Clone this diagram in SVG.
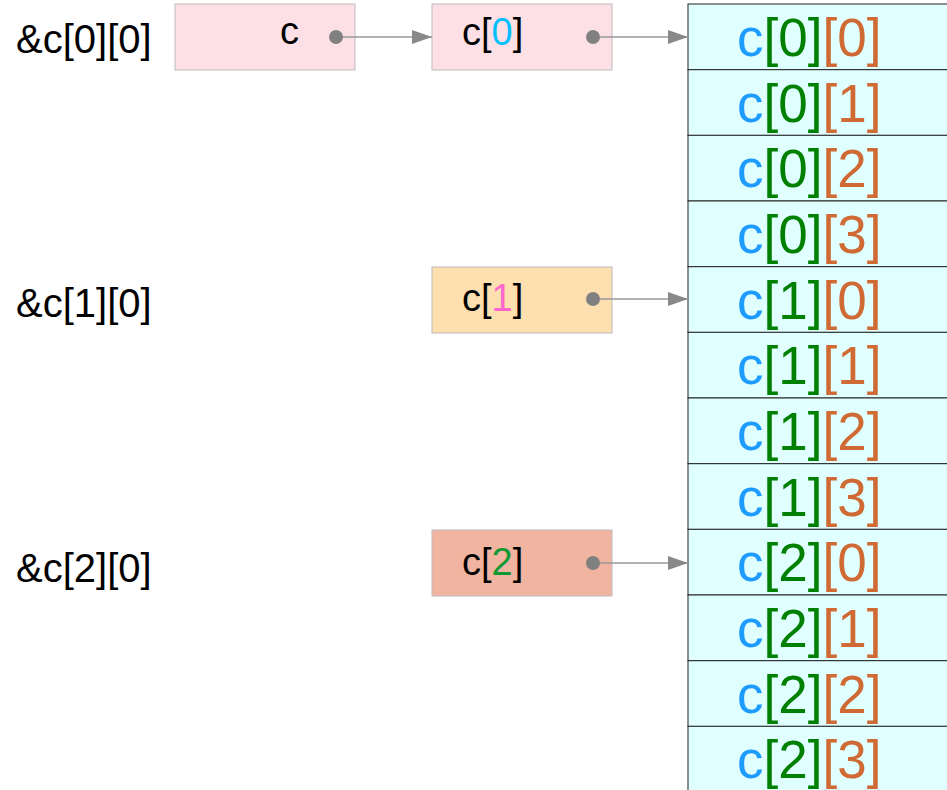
<svg xmlns="http://www.w3.org/2000/svg" width="947" height="790" viewBox="0 0 947 790">
<style>
text{font-family:"Liberation Sans",Arial,sans-serif;fill:#000}
.lbl{font-size:40px}
.nt{font-size:38px}
.ct{font-size:53px}
.box{stroke:#bbbbbb;stroke-width:1}
.cell{fill:#e0ffff;stroke:#222;stroke-width:1}
.conn{stroke:#999;stroke-width:1.5;fill:none}
.dot{fill:#808080}
.b{fill:#1e9bff}.g{fill:#008000}.o{fill:#cf6a35}
</style>
<defs>
<marker id="ah" markerWidth="20" markerHeight="14" refX="20" refY="7" orient="auto" markerUnits="userSpaceOnUse">
<path d="M0,0 L20,7 L0,14 z" fill="#888"/>
</marker>
</defs>
<g id="labels">
<text class="lbl" x="16" y="53">&amp;c[0][0]</text>
<text class="lbl" x="16" y="317">&amp;c[1][0]</text>
<text class="lbl" x="16" y="582">&amp;c[2][0]</text>
</g>
<g id="array">
<g id="c00"><rect class="cell" x="688" y="4" width="270" height="65.7"/><text class="ct" x="737" y="56"><tspan class="b">c</tspan><tspan class="g">[0]</tspan><tspan class="o">[0]</tspan></text></g>
<g id="c01"><rect class="cell" x="688" y="69.7" width="270" height="65.7"/><text class="ct" x="737" y="122"><tspan class="b">c</tspan><tspan class="g">[0]</tspan><tspan class="o">[1]</tspan></text></g>
<g id="c02"><rect class="cell" x="688" y="135.3" width="270" height="65.7"/><text class="ct" x="737" y="187"><tspan class="b">c</tspan><tspan class="g">[0]</tspan><tspan class="o">[2]</tspan></text></g>
<g id="c03"><rect class="cell" x="688" y="201" width="270" height="65.7"/><text class="ct" x="737" y="253"><tspan class="b">c</tspan><tspan class="g">[0]</tspan><tspan class="o">[3]</tspan></text></g>
<g id="c10"><rect class="cell" x="688" y="266.7" width="270" height="65.7"/><text class="ct" x="737" y="319"><tspan class="b">c</tspan><tspan class="g">[1]</tspan><tspan class="o">[0]</tspan></text></g>
<g id="c11"><rect class="cell" x="688" y="332.3" width="270" height="65.7"/><text class="ct" x="737" y="384"><tspan class="b">c</tspan><tspan class="g">[1]</tspan><tspan class="o">[1]</tspan></text></g>
<g id="c12"><rect class="cell" x="688" y="398" width="270" height="65.7"/><text class="ct" x="737" y="450"><tspan class="b">c</tspan><tspan class="g">[1]</tspan><tspan class="o">[2]</tspan></text></g>
<g id="c13"><rect class="cell" x="688" y="463.7" width="270" height="65.7"/><text class="ct" x="737" y="516"><tspan class="b">c</tspan><tspan class="g">[1]</tspan><tspan class="o">[3]</tspan></text></g>
<g id="c20"><rect class="cell" x="688" y="529.3" width="270" height="65.7"/><text class="ct" x="737" y="581"><tspan class="b">c</tspan><tspan class="g">[2]</tspan><tspan class="o">[0]</tspan></text></g>
<g id="c21"><rect class="cell" x="688" y="595" width="270" height="65.7"/><text class="ct" x="737" y="647"><tspan class="b">c</tspan><tspan class="g">[2]</tspan><tspan class="o">[1]</tspan></text></g>
<g id="c22"><rect class="cell" x="688" y="660.7" width="270" height="65.7"/><text class="ct" x="737" y="713"><tspan class="b">c</tspan><tspan class="g">[2]</tspan><tspan class="o">[2]</tspan></text></g>
<g id="c23"><rect class="cell" x="688" y="726.3" width="270" height="65.7"/><text class="ct" x="737" y="778"><tspan class="b">c</tspan><tspan class="g">[2]</tspan><tspan class="o">[3]</tspan></text></g>
</g>
<g id="node-c"><rect class="box" x="175" y="4" width="180" height="66" fill="#fce0e6"/><text class="nt" x="280" y="44">c</text></g>
<g id="node-c0"><rect class="box" x="432" y="4" width="180" height="66" fill="#fce0e6"/><text class="nt" x="462" y="45">c[<tspan fill="#00bfff">0</tspan>]</text></g>
<g id="node-c1"><rect class="box" x="432" y="267" width="180" height="66" fill="#fddfb0"/><text class="nt" x="462" y="311">c[<tspan fill="#ff66cc">1</tspan>]</text></g>
<g id="node-c2"><rect class="box" x="432" y="530" width="180" height="66" fill="#f0b4a0"/><text class="nt" x="462" y="575">c[<tspan fill="#119933">2</tspan>]</text></g>
<g id="connectors">
<line class="conn" x1="336" y1="37" x2="432" y2="37" marker-end="url(#ah)"/>
<line class="conn" x1="593" y1="37" x2="688" y2="37" marker-end="url(#ah)"/>
<line class="conn" x1="593" y1="299" x2="688" y2="299" marker-end="url(#ah)"/>
<line class="conn" x1="593" y1="563" x2="688" y2="563" marker-end="url(#ah)"/>
<circle class="dot" cx="336" cy="37" r="7"/>
<circle class="dot" cx="593" cy="37" r="7"/>
<circle class="dot" cx="593" cy="299" r="7"/>
<circle class="dot" cx="593" cy="563" r="7"/>
</g>
</svg>
